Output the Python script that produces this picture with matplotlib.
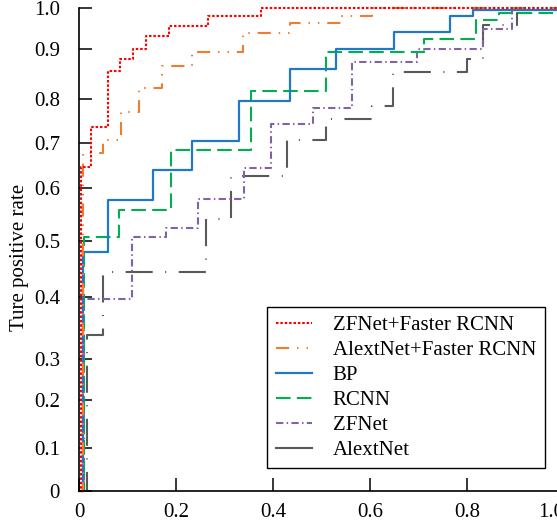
import numpy as np
import matplotlib.pyplot as plt
from matplotlib.lines import Line2D

plt.rcParams['font.family'] = ['Liberation Serif', 'DejaVu Serif']

# %% data
# the y axis of the source figure is not evenly spaced
y_ticks = [0, 0.1, 0.2, 0.3, 0.4, 0.5, 0.6, 0.7, 0.8, 0.9, 1.0]
y_tick_pos = [0, 0.089, 0.188, 0.273, 0.402, 0.518, 0.627, 0.720, 0.812, 0.915, 1.0]
y_tick_labels = ['0', '0.1', '0.2', '0.3', '0.4', '0.5', '0.6', '0.7', '0.8', '0.9', '1.0']
x_ticks = [0, 0.2, 0.4, 0.6, 0.8, 1.0]
x_tick_labels = ['0', '0.2', '0.4', '0.6', '0.8', '1.0']

names = ['ZFNet+Faster RCNN', 'AlextNet+Faster RCNN', 'BP', 'RCNN', 'ZFNet', 'AlextNet']

fpr_zf_frcnn = [0, 0.0025, 0.023, 0.059, 0.084, 0.110, 0.137, 0.185, 0.265, 0.374, 1.0]
tpr_zf_frcnn = [0, 0.647, 0.736, 0.856, 0.880, 0.900, 0.932, 0.956, 0.980, 1.0, 1.0]

fpr_alex_frcnn = [0, 0.007, 0.049, 0.086, 0.123, 0.170, 0.232, 0.337, 0.434, 0.541, 0.603, 1.0]
tpr_alex_frcnn = [0, 0.678, 0.707, 0.770, 0.822, 0.866, 0.894, 0.939, 0.963, 0.980, 1.0, 1.0]

fpr_bp = [0, 0.007, 0.059, 0.152, 0.232, 0.329, 0.434, 0.529, 0.648, 0.764, 0.811, 1.0]
tpr_bp = [0, 0.480, 0.577, 0.640, 0.705, 0.795, 0.860, 0.900, 0.941, 0.980, 0.995, 0.995]

fpr_rcnn = [0, 0.009, 0.081, 0.189, 0.354, 0.508, 0.710, 0.818, 0.865, 1.0]
tpr_rcnn = [0, 0.508, 0.558, 0.684, 0.816, 0.894, 0.924, 0.971, 0.988, 0.988]

fpr_zf = [0, 0.009, 0.108, 0.178, 0.244, 0.339, 0.395, 0.481, 0.562, 0.696, 0.832, 0.892, 1.0]
tpr_zf = [0, 0.397, 0.508, 0.525, 0.579, 0.644, 0.743, 0.780, 0.874, 0.900, 0.949, 0.995, 0.995]

fpr_alex = [0, 0.016, 0.049, 0.261, 0.313, 0.428, 0.508, 0.603, 0.646, 0.799, 0.832, 0.902, 1.0]
tpr_alex = [0, 0.339, 0.445, 0.542, 0.627, 0.707, 0.755, 0.784, 0.854, 0.880, 0.959, 0.988, 0.988]


# %% helpers
def fwd(v):
    return np.interp(v, y_ticks, y_tick_pos)

def inv(p):
    return np.interp(p, y_tick_pos, y_ticks)


# %% plot
fig = plt.figure(figsize=(5.57, 5.28), dpi=100)
ax = fig.add_axes([0.1427, 0.0701, 0.8707, 0.9148])

styles = [
    dict(color='#ff0000', ls=(0, (1.2, 0.9)), lw=1.5),
    dict(color='#ed7d31', ls=(0, (6.3, 3.8, 0.7, 3.8, 0.7, 3.8)), lw=1.5),
    dict(color='#1f78c8', ls='-', lw=1.6),
    dict(color='#00b050', ls=(0, (7, 3)), lw=1.5),
    dict(color='#8064a2', ls=(0, (3.5, 1.6, 0.7, 1.6)), lw=1.5),
    dict(color='#595959', ls=(0, (13, 6, 0.5, 6)), lw=1.5),
]
curves = [(fpr_zf_frcnn, tpr_zf_frcnn), (fpr_alex_frcnn, tpr_alex_frcnn),
          (fpr_bp, tpr_bp), (fpr_rcnn, tpr_rcnn), (fpr_zf, tpr_zf),
          (fpr_alex, tpr_alex)]

# draw back to front so the top curves stay visible
for (x, y), st in reversed(list(zip(curves, styles))):
    ax.step(x, y, where='post', clip_on=False, **st)

ax.set_yscale('function', functions=(fwd, inv))
ax.set_xlim(0, 1)
ax.set_ylim(0, 1)
ax.set_xticks(x_ticks, x_tick_labels)
ax.set_yticks(y_ticks, y_tick_labels)
ax.minorticks_off()
ax.tick_params(direction='in', length=9.5, width=1.1, labelsize=15)
ax.tick_params(axis='y', pad=14)
ax.tick_params(axis='x', pad=9)
for s in ['top', 'right']:
    ax.spines[s].set_visible(False)
for s in ['left', 'bottom']:
    ax.spines[s].set_linewidth(1.2)
# the last x label sits a bit left of its tick in the source
ax.get_xticklabels()[-1].set_horizontalalignment('right')
ax.get_xticklabels()[-1].set_x(1.0)

ax.set_ylabel('Ture positive rate', fontsize=15)
ax.yaxis.set_label_coords(-0.104, 0.484)

handles = []
for i, st in enumerate(styles):
    st = dict(st)
    if i == 5:
        st['ls'] = '-'
    handles.append(Line2D([], [], **st))
leg = ax.legend(handles, names, loc='upper left', bbox_to_anchor=(0.387, 0.381),
                borderaxespad=0, fontsize=15, frameon=True, fancybox=False,
                edgecolor='black', framealpha=1, handlelength=1.75,
                handletextpad=1.0, labelspacing=0.26, borderpad=0.4)
leg.get_frame().set_linewidth(1.0)

fig.savefig('out.png', dpi=100)
